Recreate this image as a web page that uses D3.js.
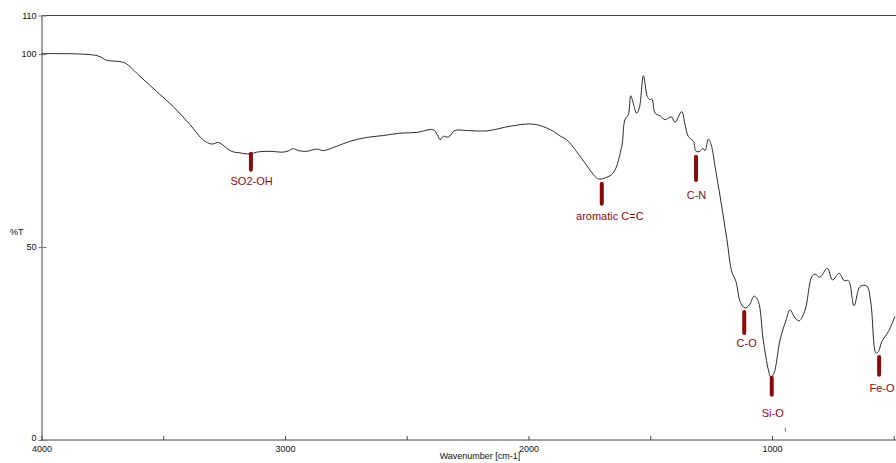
<!DOCTYPE html>
<html><head><meta charset="utf-8">
<script src="https://cdn.jsdelivr.net/npm/d3@7"></script>
<style>
html,body{margin:0;padding:0;background:#fff;}
svg{display:block;font-family:"Liberation Sans",Arial,sans-serif;}
</style></head>
<body><svg id="c" width="896" height="463"></svg>
<script>
// ---- data ----
const wavenumbers = [4000,3772,3732,3686,3657,3595,3527,3459,3390,3335,3301,3274,3259,3219,3185,3144,3116,3062,3007,2986,2966,2945,2911,2870,2843,2788,2733,2664,2596,2528,2459,2391,2374,2363,2350,2329,2302,2254,2172,2076,1994,1953,1898,1871,1843,1788,1720,1706,1686,1652,1617,1604,1590,1580,1570,1556,1545,1528,1512,1501,1493,1480,1460,1439,1426,1412,1398,1371,1357,1344,1323,1312,1296,1284,1275,1261,1248,1234,1213,1185,1165,1148,1131,1111,1093,1073,1056,1036,1015,1005,992,967,942,926,905,888,864,837,823,803,773,751,724,704,686,663,638,611,594,573,563,549,522,495];
const transmittance = [100.1,99.6,98.4,98.1,97.7,94.2,90.3,86.4,81.7,77.7,76.7,77.1,76.6,74.8,74.4,74.1,74.6,74.8,74.6,74.9,75.5,75.0,74.8,75.4,75.0,76.1,77.4,78.4,78.9,79.5,79.7,80.4,79.1,77.8,78.7,78.5,80.2,80.2,80.1,81.3,81.9,81.5,80.0,78.8,77.8,73.5,67.9,67.6,67.9,69.2,76.1,83.0,84.3,89.2,87.3,84.7,86.0,94.4,89.0,88.2,88.4,84.7,84.0,83.0,83.4,83.7,82.3,85.1,81.7,78.7,77.4,74.8,74.8,75.6,75.0,78.0,76.1,70.9,63.1,51.9,43.6,41.1,35.9,34.2,35.0,37.3,35.9,25.9,18.2,16.3,17.3,25.9,31.1,33.7,31.6,30.9,33.7,42.3,43.0,42.2,44.5,41.5,43.2,41.3,41.3,34.8,39.8,39.9,35.5,22.5,22.9,25.5,28.1,32.0];

const bandLabels   = ["SO2-OH","aromatic C=C","C-N","C-O","Si-O","Fe-O"];
const bandWn       = [3140,1699,1312,1114,1001,560];
const bandTopT     = [74.2,66.4,73.4,33.2,16.1,21.5];
const bandBottomT  = [70.0,61.2,67.4,27.7,11.7,16.9];
const bandLabelWn  = [3137,1666,1310,1104,997,548];
const bandLabelT   = [67.2,58.1,63.5,25.0,7.0,13.5];

const xTickValues = [4000,3500,3000,2500,2000,1500,1000,500];
const xTickLabels = ["4000","","3000","","2000","","1000",""];
const yTickValues = [0,50,100,110];
const cursorWn = 945;

// ---- chart ----
const svg = d3.select("#c");
const W = 896, H = 463;
const x = d3.scaleLinear().domain([4000, 490.7]).range([41.5, 896]);
const y = d3.scaleLinear().domain([0, 110]).range([440, 15.5]);
const axisColor = "#444";

// top border
svg.append("line").attr("x1", x(4000)).attr("x2", W).attr("y1", y(110)).attr("y2", y(110))
  .attr("stroke", axisColor).attr("stroke-width", 1);

// x axis
const xAxis = d3.axisBottom(x).tickValues(xTickValues).tickSize(0).tickFormat((d,i)=>xTickLabels[i]);
const gx = svg.append("g").attr("transform", `translate(0,${y(0)})`).call(xAxis);
gx.select(".domain").attr("stroke", axisColor).attr("d", `M${x(4000)},0H${W}`);
gx.selectAll(".tick text").attr("font-size", 9).attr("fill", "#111").attr("dy", "0.95em").attr("y", 3);
gx.selectAll(".tick").append("line").attr("y1", 0).attr("y2", -4).attr("stroke", axisColor);

// y axis
const yAxis = d3.axisLeft(y).tickValues(yTickValues).tickSize(0).tickPadding(5);
const gy = svg.append("g").attr("transform", `translate(${x(4000)},0)`).call(yAxis);
gy.select(".domain").attr("stroke", axisColor);
gy.selectAll(".tick text").attr("font-size", 9).attr("fill", "#111");
gy.selectAll(".tick").append("line").attr("x1", -3).attr("x2", 5).attr("stroke", "#777");
gy.selectAll(".tick").filter(d=>d===0).select("text").attr("dy", "0em");

// axis titles
svg.append("text").attr("x", 480).attr("y", 459).attr("text-anchor", "middle")
  .attr("font-size", 9).attr("fill", "#111").text("Wavenumber [cm-1]");
svg.append("text").attr("x", 10).attr("y", 235).attr("font-size", 9).attr("fill", "#111").text("%T");

// spectrum
const pts = wavenumbers.map((w,i)=>[w, transmittance[i]]);
const line = d3.line().x(d=>x(d[0])).y(d=>y(d[1])).curve(d3.curveCatmullRom.alpha(0.5));
svg.append("path").datum(pts).attr("d", line).attr("fill", "none")
  .attr("stroke", "#2b2b2b").attr("stroke-width", 1);

// cursor mark
svg.append("line").attr("x1", x(cursorWn)).attr("x2", x(cursorWn)).attr("y1", y(2.2)).attr("y2", y(3.2))
  .attr("stroke", "#777").attr("stroke-width", 1);

// band markers
const red = "#8b0a0a";
bandLabels.forEach((lab, i) => {
  svg.append("line").attr("x1", x(bandWn[i])).attr("x2", x(bandWn[i]))
    .attr("y1", y(bandTopT[i])).attr("y2", y(bandBottomT[i]))
    .attr("stroke", red).attr("stroke-width", 4).attr("stroke-linecap", "round");
  svg.append("text").attr("x", x(bandLabelWn[i])).attr("y", y(bandLabelT[i]))
    .attr("text-anchor", "middle").attr("dy", "0.35em").attr("font-size", 11)
    .attr("fill", red).text(lab);
});
</script></body></html>
